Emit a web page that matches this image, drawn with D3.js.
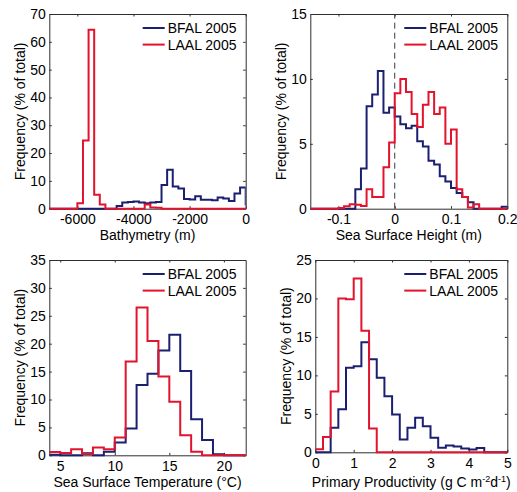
<!DOCTYPE html>
<html>
<head>
<meta charset="utf-8">
<script src="https://cdn.jsdelivr.net/npm/d3@7"></script>
<style>
body { margin: 0; background: #fff; }
svg text { font-family: "Liberation Sans", Arial, sans-serif; font-size: 14px; fill: #000; }
</style>
</head>
<body>
<svg id="chart" width="517" height="492"></svg>
<script>
// legend entries, drawn blue first then red on top
var seriesNames = ["BFAL 2005", "LAAL 2005"];
var seriesColors = ["#1b1f70", "#e1132d"];

// Bathymetry (m), bins of 200 m starting at -7000
var bathyStart = -7000, bathyStep = 200;
var bathyBFAL = [0, 0, 0, 0, 0, 0, 0, 0, 0, 0, 0, 0,
  1.0, 2.2, 2.4, 2.6, 2.2, 2.0, 2.2, 2.4, 8.5, 14.0, 8.0, 7.3,
  3.5, 3.3, 4.5, 3.2, 3.2, 3.0, 4.0, 3.7, 2.8, 5.5, 7.6, 1.5];
var bathyLAAL = [0, 0, 0, 0, 0, 2.0, 24.5, 64.3, 5.0, 1.5, 0, 0,
  0, 0, 0, 0, 0, 1.5, 0.4, 0.3, 0, 0, 0, 0,
  0, 0, 0, 0, 0, 0, 0, 0, 0, 0, 0, 0];

// Sea surface height (m), bins of 0.01 starting at -0.15
var sshStart = -0.15, sshStep = 0.01;
var sshBFAL = [0, 0, 0, 0, 0, 0, 0, 0, 1.5, 3.1, 7.9, 8.8,
  10.6, 7.4, 7.8, 7.1, 6.5, 6.2, 6.4, 5.2, 4.8, 3.7, 3.4, 2.5,
  2.1, 1.6, 1.2, 0.9, 0.5, 0, 0, 0, 0, 0, 0.15];
var sshLAAL = [0, 0, 0, 0, 0, 0.05, 0.18, 0.35, 0.3, 0.2, 1.5, 0.9,
  0.9, 3.2, 5.1, 8.9, 10.0, 9.0, 7.3, 6.3, 8.0, 9.0, 7.3, 7.8,
  5.0, 6.1, 1.5, 0.9, 0.1, 0.35, 0, 0, 0, 0, 0];

// Sea surface temperature (deg C), bins of 1 starting at 4
var sstStart = 4, sstStep = 1;
var sstBFAL = [0.1, 0, 0, 0.35, 0, 0.65, 2.3, 4.8, 12.6, 14.6, 18.8, 21.6,
  15.1, 6.45, 2.75, 0.2, 0, 0];
var sstLAAL = [0.6, 0.4, 1.1, 0.25, 1.4, 1.1, 3.2, 16.8, 26.5, 20.5, 14.1, 9.6,
  3.6, 0.65, 0, 0, 0, 0];

// Primary productivity, bins of 0.2 starting at 0
var ppStart = 0, ppStep = 0.2;
var ppBFAL = [0, 0, 3.2, 5.6, 11.0, 11.2, 14.3, 12.1, 9.7, 7.3, 4.9, 1.65,
  3.2, 4.5, 3.4, 1.9, 0.6, 0.9, 0.75, 0.5, 0.35, 0.55, 0, 0, 0];
var ppLAAL = [0.4, 2.0, 7.9, 20.0, 19.9, 22.6, 15.8, 3.1, 0, 0, 0, 0,
  0, 0, 0, 0, 0, 0, 0, 0, 0, 0, 0, 0, 0];

var svg = d3.select("#chart");

var panels = [
  {box: [49.3, 14, 245.7, 208.7], xDomain: [-7000, 0], yDomain: [0, 70],
   xTicks: [-6000, -4000, -2000, 0], yTicks: [0, 10, 20, 30, 40, 50, 60, 70],
   start: bathyStart, step: bathyStep, data: [bathyBFAL, bathyLAAL],
   xLabel: ["Bathymetry (m)"], xLabelY: 240},
  {box: [310.3, 14, 507.3, 208.7], xDomain: [-0.15, 0.2], yDomain: [0, 15],
   xTicks: [-0.1, 0, 0.1, 0.2], yTicks: [0, 5, 10, 15],
   start: sshStart, step: sshStep, data: [sshBFAL, sshLAAL],
   xLabel: ["Sea Surface Height (m)"], xLabelY: 240, zeroLine: true},
  {box: [49.3, 260, 245.7, 455.3], xDomain: [4, 22], yDomain: [0, 35],
   xTicks: [5, 10, 15, 20], yTicks: [0, 5, 10, 15, 20, 25, 30, 35],
   start: sstStart, step: sstStep, data: [sstBFAL, sstLAAL],
   xLabel: ["Sea Surface Temperature (\u00b0C)"], xLabelY: 486.5},
  {box: [315.3, 260, 507.3, 452.3], xDomain: [0, 5], yDomain: [0, 25],
   xTicks: [0, 1, 2, 3, 4, 5], yTicks: [0, 5, 10, 15, 20, 25],
   start: ppStart, step: ppStep, data: [ppBFAL, ppLAAL],
   xLabel: ["Primary Productivity (g C m", "-2", "d", "-1", ")"], xLabelY: 486.5}
];

var axisColor = "#2e2e2e";

panels.forEach(function(p, k) {
  var left = p.box[0], top = p.box[1], right = p.box[2], bottom = p.box[3];
  var x = d3.scaleLinear().domain(p.xDomain).range([left, right]);
  var y = d3.scaleLinear().domain(p.yDomain).range([bottom, top]);
  var fmt = function(d) { return String(d); };

  var g = svg.append("g");

  // axes box with inward ticks on all four sides
  g.append("g").attr("transform", "translate(0," + bottom + ")")
    .call(d3.axisBottom(x).tickValues(p.xTicks).tickFormat(fmt).tickSizeInner(-2.5).tickSizeOuter(0).tickPadding(5.5));
  g.append("g").attr("transform", "translate(0," + top + ")")
    .call(d3.axisTop(x).tickValues(p.xTicks).tickFormat("").tickSizeInner(-2.5).tickSizeOuter(0));
  g.append("g").attr("transform", "translate(" + left + ",0)")
    .call(d3.axisLeft(y).tickValues(p.yTicks).tickFormat(fmt).tickSizeInner(-2.5).tickSizeOuter(0).tickPadding(3.5));
  g.append("g").attr("transform", "translate(" + right + ",0)")
    .call(d3.axisRight(y).tickValues(p.yTicks).tickFormat("").tickSizeInner(-2.5).tickSizeOuter(0));

  g.selectAll(".domain, .tick line").attr("stroke", axisColor).attr("stroke-width", 1);
  g.selectAll(".tick text").attr("font-size", null).attr("font-family", null).style("fill", "#000");

  if (p.zeroLine) {
    g.append("line")
      .attr("x1", x(0)).attr("x2", x(0))
      .attr("y1", y(p.yDomain[0])).attr("y2", y(p.yDomain[1]))
      .attr("stroke", "#3a3a3a").attr("stroke-width", 1)
      .attr("stroke-dasharray", "6,4");
  }

  // clip the stairs to the plot box
  svg.append("clipPath").attr("id", "clip" + k)
    .append("rect")
    .attr("x", left).attr("y", top - 3)
    .attr("width", right - left).attr("height", bottom - top + 6);

  var line = d3.line()
    .x(function(d) { return x(d[0]); })
    .y(function(d) { return y(d[1]); })
    .curve(d3.curveStepAfter);

  p.data.forEach(function(vals, s) {
    var pts = vals.map(function(v, i) { return [p.start + i * p.step, v]; });
    pts.push([p.start + vals.length * p.step, vals[vals.length - 1]]);
    g.append("path")
      .attr("clip-path", "url(#clip" + k + ")")
      .attr("d", line(pts))
      .attr("fill", "none")
      .attr("stroke", seriesColors[s])
      .attr("stroke-width", 2)
      .attr("stroke-linejoin", "miter");
  });

  // legend, top right, no frame
  seriesNames.forEach(function(name, s) {
    var ly = top + 14 + s * 16.6;
    g.append("line")
      .attr("x1", right - 103).attr("x2", right - 81)
      .attr("y1", ly).attr("y2", ly)
      .attr("stroke", seriesColors[s]).attr("stroke-width", 2);
    g.append("text")
      .attr("x", right - 78).attr("y", ly + 5)
      .text(name);
  });

  // axis labels
  g.append("text")
    .attr("transform", "translate(" + (left - 24.3) + "," + ((top + bottom) / 2) + ") rotate(-90)")
    .attr("text-anchor", "middle")
    .text("Frequency (% of total)");

  var xl = g.append("text")
    .attr("x", (left + right) / 2).attr("y", p.xLabelY)
    .attr("text-anchor", "middle");
  p.xLabel.forEach(function(part, i) {
    var sup = i % 2 === 1;
    xl.append("tspan")
      .attr("dy", sup ? -5 : (i > 0 ? 5 : 0))
      .style("font-size", sup ? "9px" : null)
      .text(part);
  });
});
</script>
</body>
</html>
